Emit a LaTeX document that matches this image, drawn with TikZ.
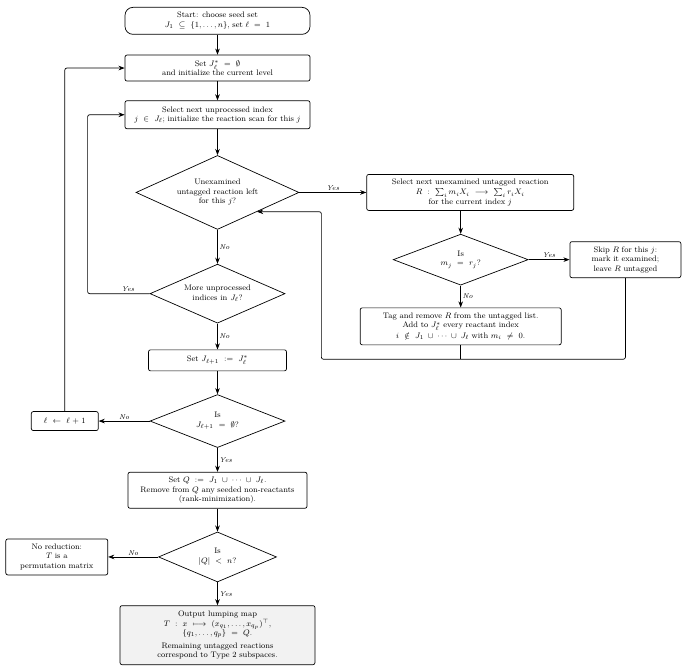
\documentclass[tikz,border=0pt]{standalone}
\usepackage{amsmath,amssymb}
\usetikzlibrary{arrows.meta, positioning, shapes.geometric}
\thickmuskip=11mu

\begin{document}
\begin{tikzpicture}[
        font=\footnotesize,
        >=Stealth,
        box/.style={draw, rounded corners=2pt, line width=0.7pt, align=center, inner sep=2pt, fill=white},
        startbox/.style={box, rounded corners=8pt},
        decision/.style={diamond, draw, line width=0.7pt, align=center, inner sep=1pt},
        arrow/.style={->, line width=0.7pt},
        loop/.style={arrow, rounded corners=2pt},
        lab/.style={font=\scriptsize\itshape, inner sep=1.5pt}
    ]
        \node[startbox, text width=181pt, minimum height=27pt] (start) {
            Start: choose seed set\\
            $J_1 \subseteq \{1,\dots,n\}$, set $\ell = 1$
        };
        \node[box, text width=181pt, minimum height=26pt, below=20pt of start] (reset) {
            Set $J_\ell^{*} = \emptyset$\\
            and initialize the current level
        };
        \node[box, text width=181pt, minimum height=28pt, below=19pt of reset] (pickj) {
            Select next unprocessed index\\
            $j \in J_\ell$; initialize the reaction scan for this $j$
        };
        \node[decision, aspect=2.2, minimum width=163pt, minimum height=74pt, below=26pt of pickj] (scan) {
            Unexamined\\
            untagged reaction left\\
            for this $j$?
        };

        % inner loop over the reactions
        \node[box, text width=203pt, minimum height=36pt, right=67pt of scan] (pickr) {
            Select next unexamined untagged reaction\\[1pt]
            $R : \sum_i m_i X_i \longrightarrow \sum_i r_i X_i$\\
            for the current index $j$
        };
        \node[decision, aspect=2.6, minimum width=135pt, minimum height=51pt, below=23pt of pickr, xshift=-9.5pt] (same) {
            Is\\
            $m_j = r_j$?
        };
        \node[box, text width=107pt, minimum height=36pt, right=41pt of same] (skip) {
            Skip $R$ for this $j$:\\
            mark it examined;\\
            leave $R$ untagged
        };
        \node[box, text width=197pt, minimum height=37pt, below=22pt of same] (tag) {
            Tag and remove $R$ from the untagged list.\\
            Add to $J_\ell^{*}$ every reactant index\\[1pt]
            $i \notin J_1 \cup \cdots \cup J_\ell$ with $m_i \neq 0$.
        };

        % back in the main column
        \node[decision, aspect=2.3, minimum width=135pt, minimum height=59pt, below=34pt of scan] (more) {
            More unprocessed\\
            indices in $J_\ell$?
        };
        \node[box, text width=134pt, minimum height=21pt, below=26pt of more] (next) {
            Set $J_{\ell+1} := J_\ell^{*}$
        };
        \node[decision, aspect=2.5, minimum width=135pt, minimum height=53pt, below=23pt of next] (empty) {
            Is\\
            $J_{\ell+1} = \emptyset$?
        };
        \node[box, text width=63pt, minimum height=19pt, left=51pt of empty] (incr) {
            $\ell \leftarrow \ell + 1$
        };
        \node[box, text width=175pt, minimum height=36pt, below=24pt of empty] (setq) {
            Set $Q := J_1 \cup \cdots \cup J_\ell$.\\
            Remove from $Q$ any seeded non-reactants\\
            (rank-minimization).
        };
        \node[decision, aspect=2.4, minimum width=118pt, minimum height=50pt, below=23pt of setq] (size) {
            Is\\
            $|Q| < n$?
        };
        \node[box, text width=98pt, minimum height=36pt, left=50pt of size] (noreduce) {
            No reduction:\\
            $T$ is a\\
            permutation matrix
        };
        \node[box, fill=gray!10, text width=191pt, minimum height=59pt, below=23pt of size] (output) {
            Output lumping map\\
            $T : x \longmapsto (x_{q_1},\dots,x_{q_p})^{\top}$,\\
            $\{q_1,\dots,q_p\} = Q$.\\[3pt]
            Remaining untagged reactions\\
            correspond to Type 2 subspaces.
        };

        \coordinate[below=14pt of tag.south] (join);
        \coordinate[right=22pt of scan.east] (turn);

        \draw[arrow] (start) -- (reset);
        \draw[arrow] (reset) -- (pickj);
        \draw[arrow] (pickj) -- (scan);
        \draw[arrow] (scan) -- node[lab, above] {Yes} (pickr);
        \draw[arrow] (pickr.south -| same.north) -- (same.north);
        \draw[arrow] (same) -- node[lab, above] {Yes} (skip);
        \draw[arrow] (same) -- node[lab, right] {No} (tag);
        \draw[line width=0.7pt] (tag) -- (join);
        \draw[loop] (skip.south) |- (join) -| (turn |- scan.-26) -- (scan.-26);
        \draw[arrow] (scan) -- node[lab, right] {No} (more);
        \draw[loop] (more.west) -- node[lab, above, pos=0.35] {Yes} ++(-62pt,0) |- (pickj.west);
        \draw[arrow] (more) -- node[lab, right] {No} (next);
        \draw[arrow] (next) -- (empty);
        \draw[arrow] (empty) -- node[lab, above] {No} (incr);
        \draw[loop] (incr.north) |- (reset.west);
        \draw[arrow] (empty) -- node[lab, right] {Yes} (setq);
        \draw[arrow] (setq) -- (size);
        \draw[arrow] (size) -- node[lab, above] {No} (noreduce);
        \draw[arrow] (size) -- node[lab, right] {Yes} (output);

        \useasboundingbox ([shift={(-217.5pt,7pt)}]start.north) rectangle ([shift={(469.5pt,-659pt)}]start.north);
    \end{tikzpicture}
\end{document}
